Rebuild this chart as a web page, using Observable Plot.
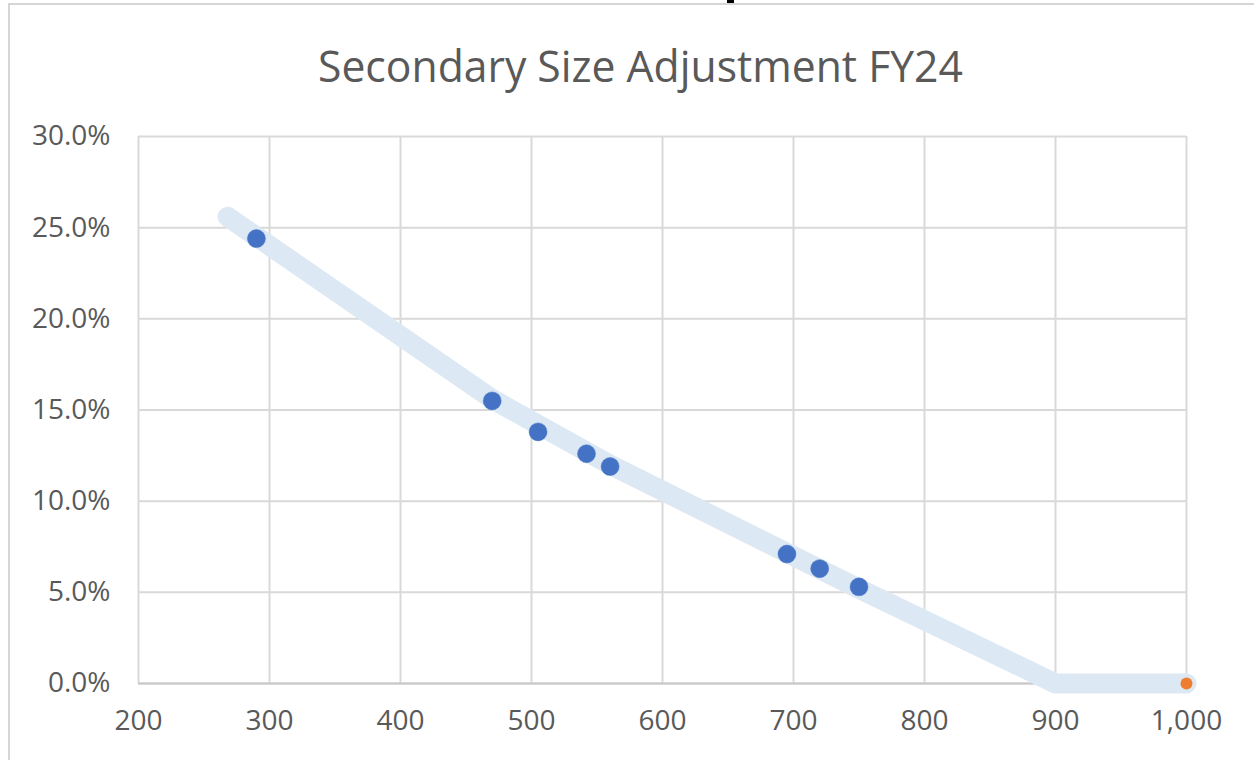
<!DOCTYPE html>
<html>
<head>
<meta charset="utf-8">
<script src="https://cdn.jsdelivr.net/npm/d3@7"></script>
<script src="https://cdn.jsdelivr.net/npm/@observablehq/plot@0.6"></script>
<style>
  html, body { margin: 0; padding: 0; background: #fff; }
  #wrap { position: relative; width: 1254px; height: 760px; overflow: hidden; background: #fff; }
  #frame { position: absolute; left: 8px; top: 3px; width: 1252px; height: 800px; border: 2px solid #d6d6d6; box-sizing: border-box; }
  #mark { position: absolute; left: 727px; top: 0; width: 7px; height: 3px; background: #000; }
  #title { position: absolute; left: 13px; top: 0; width: 1254px; height: 110px; text-align: center; line-height: 130px;
    font-family: "Open Sans", sans-serif; font-size: 44px; color: #595959; }
  #title span { display: inline-block; transform: scaleX(0.97); transform-origin: center; }
  #chart { position: absolute; left: 0; top: 110px; }
  #chart svg text { font-family: "Open Sans", sans-serif; }
</style>
</head>
<body>
<div id="wrap">
  <div id="frame"></div>
  <div id="mark"></div>
  <div id="title"><span>Secondary Size Adjustment FY24</span></div>
  <div id="chart"></div>
</div>
<script>
const titleText = "Secondary Size Adjustment FY24";
const pointX = [290, 470, 505, 542, 560, 695, 720, 750];
const pointY = [0.244, 0.155, 0.138, 0.126, 0.119, 0.071, 0.063, 0.053];
const lineX = [268, 470, 560, 750, 900, 1000];
const lineY = [0.256, 0.156, 0.120, 0.052, 0, 0];
const endX = [1000];
const endY = [0];
const xTicks = [200, 300, 400, 500, 600, 700, 800, 900, 1000];
const yTicks = [0, 0.05, 0.10, 0.15, 0.20, 0.25, 0.30];

const points = pointX.map((x, i) => ({x, y: pointY[i]}));
const line = lineX.map((x, i) => ({x, y: lineY[i]}));
const ends = endX.map((x, i) => ({x, y: endY[i]}));

const chart = Plot.plot({
  width: 1254,
  height: 650,
  marginLeft: 138,
  marginRight: 68,
  marginTop: 26,
  marginBottom: 77,
  style: { background: "transparent", fontSize: "28px", color: "#595959", overflow: "visible" },
  x: { domain: [200, 1000], label: null },
  y: { domain: [0, 0.30], label: null },
  marks: [
    Plot.gridX(xTicks, { stroke: "#d9d9d9", strokeOpacity: 1, strokeWidth: 2 }),
    Plot.gridY(yTicks, { stroke: "#d9d9d9", strokeOpacity: 1, strokeWidth: 2 }),
    Plot.ruleY([0], { stroke: "#c8c8c8", strokeWidth: 2 }),
    Plot.axisX({ ticks: xTicks, tickFormat: d3.format(","), tickSize: 0, tickPadding: 27, fill: "#595959", fontSize: 28, label: null }),
    Plot.axisY({ ticks: yTicks, tickFormat: d3.format(".1%"), tickSize: 0, tickPadding: 28, fill: "#595959", fontSize: 28, label: null }),
    Plot.line(line, { x: "x", y: "y", stroke: "#dce8f4", strokeWidth: 20, strokeLinecap: "round", strokeLinejoin: "round" }),
    Plot.dot(points, { x: "x", y: "y", r: 9, fill: "#4472c4", stroke: "#4472c4", strokeWidth: 0.5 }),
    Plot.dot(ends, { x: "x", y: "y", r: 6, fill: "#ed7d31" })
  ]
});
document.getElementById("chart").appendChild(chart);
</script>
</body>
</html>
